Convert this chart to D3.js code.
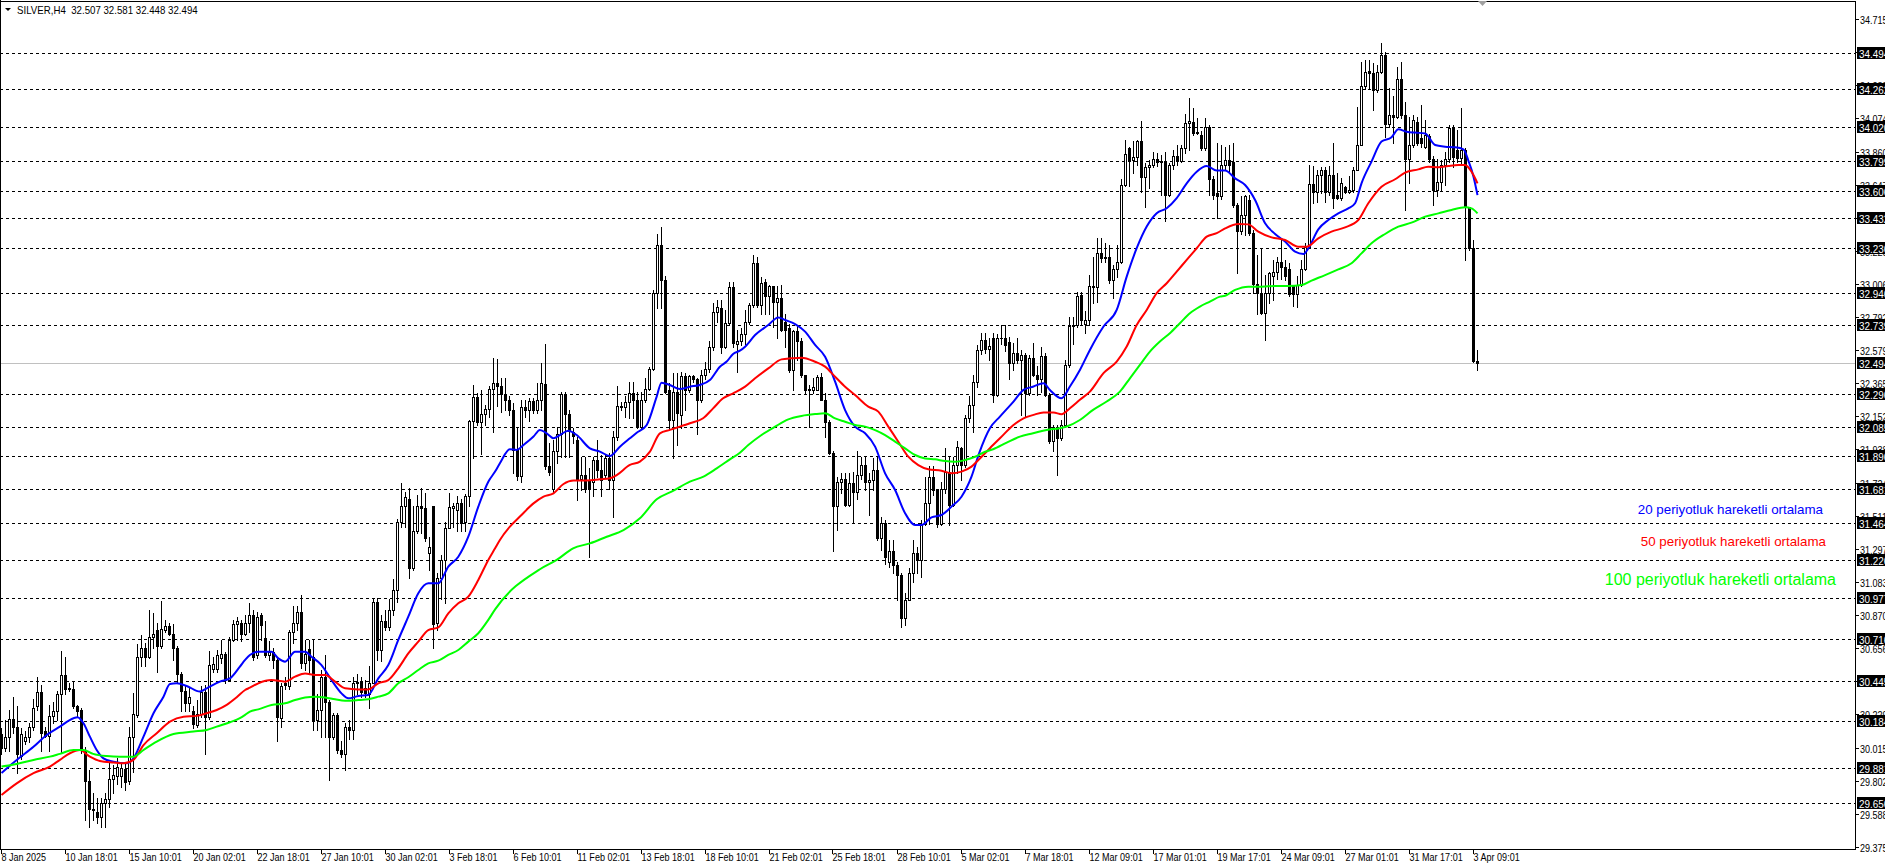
<!DOCTYPE html>
<html><head><meta charset="utf-8">
<script src="https://cdn.jsdelivr.net/npm/d3@7"></script>
<style>
body{margin:0;background:#fff;overflow:hidden}
svg{display:block}
.ax{font-family:'Liberation Sans',Arial,sans-serif;font-size:11px}
</style>
</head><body>
<svg id="c" width="1885" height="868"></svg>
<script>
const symbolTitle = "SILVER,H4  32.507 32.581 32.448 32.494";
const opens = [30.10,30.01,30.08,30.20,30.15,29.96,30.06,30.08,30.15,30.28,
30.37,30.12,30.09,30.22,30.25,30.36,30.48,30.39,30.39,30.285,
30.26,30.00,29.80,29.62,29.60,29.565,29.66,29.68,29.81,29.83,
29.83,29.875,29.80,30.08,30.225,30.60,30.66,30.60,30.73,30.77,
30.67,30.77,30.80,30.75,30.66,30.49,30.38,30.30,30.25,30.16,
30.23,30.37,30.21,30.52,30.52,30.59,30.62,30.45,30.71,30.81,
30.82,30.75,30.82,30.87,30.61,30.87,30.72,30.61,30.63,30.58,
30.205,30.43,30.41,30.76,30.82,30.89,30.56,30.65,30.60,30.19,
30.26,30.47,30.31,30.085,30.225,30.00,29.97,30.15,30.13,30.43,
30.44,30.40,30.36,30.43,30.955,30.645,30.83,30.795,30.905,31.03,
31.47,31.57,31.62,31.17,31.41,31.575,31.56,31.27,31.57,30.82,
31.11,31.225,31.43,31.56,31.55,31.59,31.47,31.64,32.12,32.275,
32.115,32.165,32.20,32.325,32.365,32.35,32.295,32.26,32.19,31.935,
31.765,32.21,32.19,32.25,32.195,32.255,32.36,31.83,31.68,31.925,
32.04,32.29,32.165,32.05,32.00,31.75,31.775,31.74,31.73,31.87,
31.805,31.77,31.88,31.74,32.02,32.22,32.21,32.245,32.305,32.255,
32.085,32.255,32.325,32.455,32.945,33.255,33.03,32.32,32.13,32.31,
32.16,32.41,32.32,32.41,32.39,32.255,32.42,32.46,32.60,32.825,
32.85,32.60,32.755,32.985,32.62,32.635,32.685,32.76,32.87,33.14,
32.87,33.02,32.925,32.99,32.89,32.915,32.76,32.72,32.45,32.70,
32.635,32.42,32.32,32.32,32.32,32.405,32.26,32.115,31.915,31.57,
31.73,31.75,31.58,31.72,31.665,31.775,31.835,31.73,31.74,31.805,
31.365,31.465,31.21,31.28,31.19,31.13,30.85,30.965,31.14,31.27,
31.225,31.46,31.595,31.76,31.675,31.46,31.685,31.795,31.58,31.835,
31.945,31.835,32.14,32.225,32.37,32.58,32.645,32.585,32.655,32.29,
32.66,32.655,32.63,32.495,32.56,32.515,32.55,32.30,32.525,32.42,
32.39,32.54,32.29,31.99,32.085,32.01,32.095,32.485,32.735,32.74,
32.935,32.75,32.775,32.995,32.985,33.205,33.17,33.18,33.03,33.10,
33.145,33.645,33.88,33.805,33.825,33.925,33.695,33.76,33.775,33.815,
33.80,33.79,33.58,33.775,33.83,33.80,33.88,34.045,34.05,33.985,
33.965,33.88,34.02,33.68,33.59,33.57,33.775,33.805,33.79,33.515,
33.345,33.45,33.545,33.335,33.005,32.945,32.82,32.945,33.06,33.08,
33.15,33.115,33.10,32.99,32.94,33.00,33.105,33.245,33.65,33.60,
33.71,33.74,33.60,33.71,33.58,33.56,33.63,33.60,33.61,33.74,
33.90,34.28,34.38,34.365,34.255,34.375,34.485,34.04,34.095,34.08,
34.33,34.095,33.815,33.90,34.05,33.95,33.89,33.96,33.815,33.61,
33.665,33.775,33.815,34.01,33.87,33.82,33.87,33.50,33.235,32.507];
const highs = [30.14,30.19,30.26,30.34,30.28,30.14,30.12,30.17,30.33,30.47,
30.42,30.15,30.29,30.31,30.38,30.64,30.60,30.43,30.44,30.29,
30.27,30.02,29.87,29.72,29.69,29.69,29.72,29.92,29.90,29.945,
29.92,29.91,30.15,30.365,30.68,30.74,30.69,30.90,30.88,30.82,
30.96,30.84,30.82,30.81,30.67,30.50,30.41,30.40,30.28,30.32,
30.41,30.42,30.64,30.60,30.645,30.71,30.63,30.73,30.835,30.86,
30.84,30.87,30.945,30.90,30.89,30.88,30.83,30.70,30.655,30.60,
30.43,30.47,30.77,30.93,30.93,31.00,30.71,30.71,30.71,30.36,
30.515,30.61,30.32,30.24,30.24,30.06,30.17,30.19,30.47,30.49,
30.47,30.45,30.54,30.98,30.98,30.87,30.90,30.97,31.10,31.49,
31.72,31.665,31.69,31.57,31.645,31.69,31.66,31.375,31.575,31.14,
31.26,31.47,31.655,31.59,31.635,31.62,31.65,32.13,32.355,32.30,
32.32,32.225,32.345,32.525,32.52,32.40,32.40,32.28,32.235,32.085,
32.255,32.255,32.27,32.27,32.365,32.495,32.62,31.98,32.00,32.085,
32.31,32.31,32.195,32.075,32.02,31.89,31.89,31.82,31.89,32.00,
31.90,31.90,31.915,32.055,32.345,32.245,32.28,32.375,32.375,32.31,
32.31,32.40,32.47,32.965,33.33,33.375,33.055,32.365,32.43,32.43,
32.44,32.43,32.42,32.42,32.40,32.45,32.505,32.635,32.88,32.90,
32.90,32.84,33.02,33.02,32.71,32.72,32.84,32.88,33.19,33.18,
33.05,33.04,33.00,32.995,32.99,33.00,32.815,32.75,32.71,32.74,
32.655,32.42,32.355,32.40,32.42,32.43,32.30,32.13,31.925,31.76,
31.785,31.785,31.785,31.795,31.925,31.89,31.89,31.785,31.88,31.89,
31.505,31.485,31.355,31.355,31.215,31.14,31.01,31.17,31.355,31.31,
31.485,31.76,31.83,31.83,31.68,31.73,31.945,31.89,31.89,31.99,
31.955,32.16,32.28,32.42,32.61,32.69,32.69,32.655,32.69,32.68,
32.74,32.74,32.665,32.625,32.655,32.58,32.56,32.55,32.625,32.475,
32.60,32.56,32.30,32.095,32.095,32.13,32.515,32.79,32.795,32.955,
32.955,32.83,33.065,33.18,33.30,33.30,33.27,33.26,33.13,33.26,
33.68,33.935,33.89,33.925,33.935,34.055,33.785,33.805,33.86,33.85,
33.84,33.86,33.785,33.87,33.90,33.905,34.105,34.205,34.14,34.075,
33.99,34.075,34.03,33.70,33.915,33.905,33.89,33.90,33.915,33.525,
33.57,33.58,33.58,33.355,33.19,33.235,33.065,33.085,33.16,33.18,
33.29,33.16,33.14,33.00,33.055,33.16,33.27,33.775,33.765,33.74,
33.76,33.76,33.765,33.915,33.72,33.69,33.635,33.70,33.76,34.15,
34.44,34.45,34.45,34.43,34.42,34.56,34.505,34.27,34.215,34.405,
34.44,34.18,34.085,34.095,34.085,34.16,34.065,33.97,33.83,33.815,
33.805,33.86,34.03,34.03,34.00,34.14,33.88,33.505,33.29,32.581];
const lows = [29.97,29.99,29.99,30.11,29.85,29.94,30.04,30.05,30.13,30.26,
29.99,30.08,29.99,30.17,30.19,29.98,30.36,30.38,30.27,30.22,
29.98,29.55,29.50,29.55,29.53,29.50,29.50,29.63,29.72,29.78,
29.76,29.74,29.78,29.86,30.21,30.54,30.54,30.59,30.655,30.505,
30.655,30.76,30.74,30.58,30.44,30.25,30.25,30.25,30.14,30.15,
30.21,29.97,30.20,30.505,30.505,30.56,30.43,30.445,30.70,30.71,
30.70,30.74,30.76,30.58,30.59,30.71,30.60,30.58,30.525,30.06,
30.15,30.39,30.39,30.69,30.77,30.53,30.515,30.49,30.13,30.13,
30.085,30.085,29.805,30.07,29.98,29.955,29.87,30.07,30.07,30.36,
30.34,30.34,30.27,30.43,30.58,30.57,30.77,30.77,30.87,30.955,
31.44,31.44,31.11,31.16,31.40,31.40,31.35,31.16,30.655,30.77,
30.97,30.945,31.43,31.44,31.41,31.41,31.41,31.57,31.88,32.095,
31.91,32.095,32.15,32.05,32.215,32.18,32.19,32.16,31.785,31.74,
31.73,32.15,32.12,32.17,32.17,32.19,31.815,31.77,31.655,31.85,
31.89,31.89,31.89,31.98,31.61,31.675,31.665,31.245,31.635,31.76,
31.635,31.76,31.685,31.505,32.00,32.19,32.15,32.14,32.14,32.075,
32.075,32.245,32.32,32.45,32.85,32.85,32.30,32.065,31.88,31.965,
32.075,32.19,32.31,32.375,32.04,32.245,32.395,32.44,32.58,32.76,
32.56,32.59,32.74,32.60,32.44,32.61,32.62,32.75,32.86,32.86,
32.815,32.815,32.815,32.73,32.655,32.70,32.60,32.44,32.32,32.515,
32.405,32.30,32.085,32.30,32.32,32.255,32.02,31.91,31.28,31.42,
31.655,31.57,31.57,31.47,31.62,31.75,31.675,31.515,31.675,31.355,
31.29,31.20,31.18,31.14,30.965,30.795,30.805,30.965,31.085,31.14,
31.115,31.45,31.46,31.645,31.44,31.45,31.655,31.45,31.57,31.785,
31.74,31.825,32.115,32.05,32.34,32.555,32.56,32.515,32.245,32.28,
32.62,32.57,32.395,32.45,32.495,32.16,32.15,32.29,32.41,32.29,
32.31,32.28,31.98,31.925,31.775,32.00,32.085,32.47,32.62,32.73,
32.75,32.69,32.74,32.88,32.89,33.15,33.15,33.01,32.915,33.05,
33.14,33.635,33.635,33.72,33.775,33.60,33.505,33.625,33.76,33.765,
33.58,33.41,33.57,33.75,33.775,33.795,33.85,33.87,33.965,33.975,
33.87,33.87,33.58,33.555,33.43,33.555,33.74,33.73,33.505,33.075,
33.33,33.32,33.32,32.945,32.815,32.815,32.645,32.88,32.90,33.04,
33.04,33.03,32.925,32.865,32.86,32.99,33.095,33.235,33.525,33.535,
33.59,33.535,33.58,33.495,33.555,33.545,33.59,33.59,33.60,33.74,
33.90,34.265,34.265,34.13,34.245,34.365,33.955,34.02,33.915,34.075,
34.075,33.485,33.655,33.89,33.90,33.89,33.88,33.795,33.515,33.57,
33.61,33.645,33.795,33.76,33.795,33.785,33.16,33.225,32.505,32.448];
const closes = [30.01,30.08,30.20,30.15,29.97,30.10,30.08,30.15,30.27,30.37,
30.11,30.09,30.22,30.25,30.36,30.48,30.39,30.40,30.28,30.25,
30.00,29.80,29.62,29.61,29.565,29.66,29.68,29.81,29.84,29.89,
29.88,29.795,30.08,30.23,30.60,30.66,30.60,30.73,30.75,30.67,
30.78,30.80,30.75,30.655,30.49,30.38,30.30,30.34,30.165,30.23,
30.37,30.21,30.55,30.555,30.61,30.62,30.45,30.71,30.815,30.83,
30.75,30.82,30.87,30.60,30.86,30.805,30.61,30.63,30.58,30.21,
30.41,30.42,30.76,30.82,30.89,30.56,30.62,30.58,30.19,30.26,
30.47,30.31,30.085,30.225,30.00,29.97,30.15,30.13,30.43,30.44,
30.375,30.365,30.43,30.955,30.645,30.83,30.795,30.905,31.03,31.47,
31.57,31.63,31.17,31.41,31.57,31.56,31.365,31.31,30.815,31.11,
31.225,31.43,31.565,31.575,31.59,31.465,31.64,32.12,32.275,32.115,
32.165,32.20,32.325,32.365,32.35,32.295,32.26,32.19,31.935,31.765,
32.21,32.195,32.25,32.195,32.255,32.365,31.83,31.795,31.925,32.04,
32.295,32.165,32.055,32.025,31.75,31.775,31.68,31.68,31.87,31.805,
31.74,31.88,31.74,32.02,32.22,32.21,32.245,32.305,32.255,32.085,
32.255,32.325,32.455,32.945,33.255,33.03,32.31,32.13,32.31,32.17,
32.41,32.32,32.41,32.39,32.255,32.42,32.46,32.60,32.825,32.86,
32.60,32.755,32.985,32.625,32.635,32.685,32.76,32.87,33.14,32.87,
33.015,32.925,32.99,32.89,32.915,32.71,32.71,32.45,32.70,32.635,
32.42,32.32,32.33,32.34,32.405,32.26,32.115,31.915,31.57,31.73,
31.75,31.58,31.72,31.665,31.775,31.835,31.73,31.74,31.805,31.365,
31.465,31.245,31.28,31.19,31.13,30.85,30.965,31.14,31.27,31.225,
31.46,31.595,31.76,31.675,31.46,31.685,31.795,31.58,31.835,31.955,
31.835,32.14,32.225,32.37,32.58,32.645,32.585,32.605,32.29,32.66,
32.655,32.61,32.495,32.56,32.515,32.55,32.30,32.525,32.42,32.39,
32.54,32.29,31.99,32.085,32.01,32.095,32.485,32.735,32.74,32.925,
32.775,32.775,32.995,32.985,33.205,33.17,33.18,33.03,33.10,33.145,
33.645,33.845,33.805,33.825,33.925,33.695,33.76,33.775,33.815,33.79,
33.79,33.58,33.775,33.83,33.80,33.88,34.045,34.055,33.98,33.978,
33.88,34.02,33.68,33.58,33.57,33.775,33.805,33.775,33.515,33.345,
33.45,33.57,33.335,33.005,32.945,32.82,32.945,33.075,33.08,33.15,
33.115,33.06,32.94,32.94,33.00,33.105,33.245,33.65,33.60,33.71,
33.74,33.60,33.71,33.56,33.56,33.655,33.60,33.61,33.74,33.90,
34.28,34.375,34.365,34.255,34.375,34.485,34.04,34.095,34.08,34.325,
34.095,33.815,33.90,34.065,33.915,33.915,33.965,33.815,33.61,33.665,
33.775,33.815,34.01,33.825,33.82,33.87,33.50,33.235,32.51,32.494];

const ma20 = [[0,29.85],[3.8,29.935],[8,30.02],[11.3,30.096],[14.6,30.15],[18,30.204],[19,30.21],[20.5,30.171],[22.1,30.085],[23.8,29.999],[25.5,29.945],[28,29.924],[31.3,29.913],[33,29.945],[35.5,30.085],[38,30.236],[40.5,30.343],[42.1,30.425],[43.8,30.429],[46.3,30.412],[49.6,30.376],[51.3,30.397],[54.6,30.44],[57.1,30.461],[59.6,30.537],[60.9,30.58],[62.1,30.612],[64.2,30.633],[67.5,30.633],[69.2,30.59],[70.9,30.569],[73.4,30.633],[75.9,30.633],[77.5,30.601],[80,30.547],[82.5,30.45],[85,30.364],[86.7,30.332],[89.2,30.347],[91.7,30.354],[94.2,30.461],[96.7,30.547],[99.2,30.709],[101.7,30.859],[104.2,31.01],[106.7,31.074],[109.2,31.074],[111.7,31.182],[114.2,31.246],[116.7,31.375],[119.2,31.569],[121.7,31.73],[123.4,31.795],[124.6,31.849],[127.1,31.939],[128.8,31.935],[130.5,31.967],[133,32.021],[134.6,32.064],[136.3,32.042],[138,32.01],[139.6,32.031],[141.7,32.059],[143.8,32.031],[147.1,31.945],[149.6,31.924],[152.1,31.896],[154.6,31.956],[157.1,32.01],[158.8,32.046],[161.3,32.096],[163.8,32.279],[165,32.369],[167.1,32.354],[169.6,32.328],[172.1,32.343],[174.6,32.354],[177.1,32.386],[179.6,32.472],[181.3,32.505],[182.9,32.554],[184.6,32.575],[185.9,32.601],[188.4,32.676],[191.7,32.741],[194.2,32.79],[195.9,32.773],[198.4,32.747],[200.9,32.698],[203.4,32.612],[205.9,32.536],[208.4,32.375],[210.9,32.192],[213.4,32.085],[215.9,32.042],[218.4,31.956],[220.9,31.784],[223.4,31.676],[225.9,31.526],[228.4,31.45],[230,31.45],[232.5,31.5],[235,31.515],[237.5,31.569],[240,31.633],[242.5,31.762],[244.4,31.913],[247.1,32.075],[249.6,32.15],[253,32.247],[255.5,32.322],[258,32.344],[260.5,32.365],[262.1,32.322],[265,32.268],[267.1,32.344],[269.6,32.451],[272.1,32.58],[275.5,32.731],[278.8,32.838],[281.3,33.053],[283.8,33.236],[286.3,33.376],[288.8,33.462],[291.3,33.494],[293.8,33.559],[296.3,33.655],[298.8,33.73],[301.3,33.767],[303.8,33.737],[305.9,33.737],[308.4,33.687],[310.9,33.644],[313.4,33.547],[315.9,33.397],[318.4,33.328],[320.9,33.279],[323.4,33.214],[325.5,33.199],[326.7,33.235],[329.2,33.358],[331.7,33.418],[334.2,33.461],[336.7,33.493],[338.4,33.526],[340,33.655],[342.5,33.795],[345,33.924],[347.5,33.952],[349.2,34.003],[351.3,33.988],[353.4,33.982],[355.9,33.977],[358.4,33.902],[360.9,33.891],[363.4,33.887],[365.5,33.874],[366.8,33.795],[368,33.698],[369,33.579]];
const ma50 = [[0,29.709],[3.8,29.784],[8,29.849],[12.1,29.892],[14.6,29.935],[17.1,29.978],[19.6,29.999],[22.1,29.956],[24.6,29.928],[28,29.918],[30.5,29.913],[33,29.935],[35.5,30.031],[38.8,30.107],[42.1,30.182],[45.5,30.214],[48.8,30.219],[51.3,30.236],[53.8,30.257],[56.3,30.29],[58.8,30.339],[60.9,30.386],[62.1,30.401],[64.2,30.429],[67.5,30.45],[70.9,30.44],[73.4,30.472],[75.9,30.493],[78.4,30.483],[80.9,30.483],[83.4,30.44],[85.9,30.397],[89.2,30.39],[91.7,30.39],[94.2,30.429],[96.7,30.45],[99.2,30.526],[101.7,30.622],[104.2,30.698],[106.7,30.773],[109.2,30.79],[111.7,30.88],[114.2,30.945],[116.7,30.988],[119.2,31.096],[121.7,31.225],[123.4,31.3],[124.6,31.354],[127.1,31.44],[129.6,31.505],[133,31.59],[135.5,31.634],[138,31.655],[140.5,31.715],[143,31.737],[146.3,31.737],[149.6,31.745],[152.1,31.752],[153.8,31.773],[157.1,31.838],[159.6,31.859],[162.1,31.924],[164.6,32.042],[167.1,32.064],[169.6,32.085],[172.1,32.107],[175.4,32.139],[177.9,32.203],[180.4,32.268],[182.9,32.30],[185.9,32.343],[188.4,32.397],[191.7,32.461],[195,32.519],[197.5,32.526],[200,32.53],[203.4,32.504],[205.9,32.472],[208.4,32.407],[210.9,32.343],[213.4,32.289],[216.7,32.214],[219.2,32.182],[221.7,32.085],[224.2,31.988],[226.7,31.891],[229.2,31.837],[231.7,31.81],[235,31.801],[237.5,31.784],[240,31.795],[242.5,31.827],[244.6,31.88],[247.1,31.946],[249.6,32.01],[253,32.096],[255.5,32.139],[258,32.161],[260.5,32.176],[263,32.176],[265,32.165],[267.1,32.204],[269.6,32.258],[272.1,32.311],[275.5,32.43],[278.8,32.505],[281.3,32.602],[283.8,32.741],[286.3,32.838],[288.8,32.946],[291.3,33.01],[293.8,33.085],[296.3,33.161],[298.8,33.236],[301.3,33.311],[303.8,33.333],[305.9,33.364],[309.2,33.392],[311.7,33.39],[314.2,33.343],[317.5,33.306],[320.9,33.289],[324.2,33.246],[326.3,33.246],[329.2,33.3],[332.5,33.343],[335.9,33.371],[339.2,33.418],[341.7,33.526],[345,33.633],[348.4,33.681],[350.9,33.724],[354.2,33.745],[356.7,33.762],[359.2,33.758],[361.7,33.767],[364.2,33.773],[365.9,33.773],[367.5,33.73],[369,33.655]];
const ma100 = [[0,29.892],[3.8,29.909],[8,29.935],[12.1,29.956],[14.6,29.974],[18,29.999],[20.5,29.999],[22.9,29.974],[26.3,29.96],[29.6,29.956],[33,29.956],[35.5,29.999],[38.8,30.053],[43,30.102],[48,30.118],[51.3,30.128],[53.8,30.15],[57.1,30.178],[59.6,30.204],[60.9,30.225],[62.1,30.247],[64.2,30.261],[67.5,30.289],[70.9,30.3],[73.4,30.321],[75.9,30.338],[78.4,30.343],[80.9,30.338],[83.4,30.326],[85.9,30.317],[89.2,30.321],[91.7,30.326],[94.2,30.343],[96.7,30.364],[99.2,30.429],[101.7,30.468],[104.2,30.515],[106.7,30.558],[109.2,30.575],[111.7,30.612],[114.2,30.644],[116.7,30.698],[119.2,30.752],[121.7,30.838],[123.4,30.906],[134.6,31.165],[138.8,31.225],[142.9,31.3],[147.1,31.332],[151.3,31.375],[155.5,31.418],[159.6,31.494],[163.8,31.616],[168,31.672],[172.1,31.73],[175.5,31.763],[178.8,31.816],[182.1,31.874],[184.6,31.917],[186.7,31.966],[190,32.031],[193.4,32.085],[196.7,32.132],[200,32.154],[203.4,32.166],[205.9,32.171],[208.4,32.138],[210.9,32.117],[213.4,32.096],[215.9,32.085],[218.4,32.063],[220.9,32.031],[223.4,31.988],[225.9,31.945],[228.4,31.902],[230.9,31.88],[233.4,31.874],[235.9,31.863],[238.4,31.859],[240.9,31.87],[243.4,31.891],[245.9,31.923],[247.9,31.939],[251.3,31.982],[254.6,32.021],[257.9,32.042],[261.3,32.064],[264.6,32.075],[266.3,32.086],[269.6,32.128],[272.9,32.193],[276.3,32.247],[279.6,32.311],[282.1,32.397],[284.6,32.483],[287.1,32.569],[289.6,32.634],[292.1,32.688],[294.6,32.752],[297.1,32.817],[299.6,32.86],[302.1,32.892],[304.6,32.924],[305.9,32.93],[308.4,32.967],[311.7,32.988],[315,32.988],[318.4,32.993],[321.7,32.993],[325,32.999],[327.5,33.027],[330.9,33.063],[334.2,33.1],[337.5,33.139],[340,33.203],[342.5,33.268],[345.9,33.328],[349.2,33.375],[352.5,33.401],[355.9,33.44],[359.2,33.461],[362.5,33.483],[365.9,33.5],[367.5,33.493],[369,33.461]];

const levels = [34.494,34.262,34.020,33.799,33.606,33.432,33.236,32.946,32.739,32.296,32.085,31.896,31.681,31.464,31.226,30.977,30.716,30.445,30.184,29.881,29.656];
const bidPrice = 32.494;
const yTickLabels = ["34.715","34.501","34.288","34.074","33.860","33.647","33.433","33.220","33.006","32.792","32.579","32.365","32.152","31.938","31.724","31.511","31.297","31.083","30.870","30.656","30.442","30.229","30.015","29.802","29.588","29.375"];
const xTickLabels = ["8 Jan 2025","10 Jan 18:01","15 Jan 10:01","20 Jan 02:01","22 Jan 18:01","27 Jan 10:01","30 Jan 02:01","3 Feb 18:01","6 Feb 10:01","11 Feb 02:01","13 Feb 18:01","18 Feb 10:01","21 Feb 02:01","25 Feb 18:01","28 Feb 10:01","5 Mar 02:01","7 Mar 18:01","12 Mar 09:01","17 Mar 01:01","19 Mar 17:01","24 Mar 09:01","27 Mar 01:01","31 Mar 17:01","3 Apr 09:01"];
const barsPerLabel = 16;
const legendTexts = ["20 periyotluk hareketli ortalama","50 periyotluk hareketli ortalama","100 periyotluk hareketli ortalama"];
const maColors = ["#0000FF","#FF0000","#00FF00"];

// ---------- drawing ----------
const svg = d3.select("#c");
const plotRight = 1855, plotBottom = 849;
const x = d3.scaleLinear().domain([0, 369]).range([1.5, 1477.5]);
const y = d3.scaleLinear().domain([29.375, 34.715]).range([846.7, 19.0]);
const py = v => Math.round(y(v)) + 0.5;

const g = svg.append("g").attr("shape-rendering","crispEdges");

g.selectAll("line.lv").data(levels).join("line")
  .attr("x1",0).attr("x2",plotRight).attr("y1",d=>py(d)).attr("y2",d=>py(d))
  .attr("stroke","#000").attr("stroke-width",1).attr("stroke-dasharray","3,3");
g.append("line").attr("x1",0).attr("x2",plotRight).attr("y1",py(bidPrice)).attr("y2",py(bidPrice))
  .attr("stroke","#C0C0C0").attr("stroke-width",1);

const bars = d3.range(opens.length).map(i => {
  const o=opens[i], c=closes[i];
  return {i, o, c, h:Math.max(highs[i],o,c), l:Math.min(lows[i],o,c)};
});
const cg = g.append("g");
bars.forEach(b => {
  const cx = x(b.i);
  cg.append("line").attr("x1",cx).attr("x2",cx).attr("y1",py(b.h)-0.5).attr("y2",py(b.l)+0.5)
    .attr("stroke","#000").attr("stroke-width",1);
  const yt = py(Math.max(b.o,b.c)), yb = py(Math.min(b.o,b.c));
  if (yb - yt < 1) {
    cg.append("line").attr("x1",cx-1.5).attr("x2",cx+1.5).attr("y1",yt).attr("y2",yt)
      .attr("stroke","#000").attr("stroke-width",1);
  } else {
    cg.append("rect").attr("x",cx-1).attr("y",yt).attr("width",2).attr("height",yb-yt)
      .attr("fill", b.c>b.o ? "#fff" : "#000").attr("stroke","#000").attr("stroke-width",1);
  }
});

const line = d3.line().x(d=>x(d[0])).y(d=>y(d[1])).curve(d3.curveMonotoneX);
[ma20, ma50, ma100].forEach((arr,k) => {
  svg.append("path").attr("d", line(arr)).attr("fill","none")
    .attr("stroke", maColors[k]).attr("stroke-width",2).attr("stroke-linejoin","round");
});

const legendPos = [[1823,514,13.33],[1826,546,13.33],[1836,585,16]];
legendTexts.forEach((t,k) => {
  svg.append("text").attr("x",legendPos[k][0]).attr("y",legendPos[k][1])
    .attr("text-anchor","end").attr("fill",maColors[k])
    .attr("font-family","'Liberation Sans',Arial,sans-serif").attr("font-size",legendPos[k][2])
    .text(t);
});

// frame
g.append("line").attr("x1",0.5).attr("x2",0.5).attr("y1",0).attr("y2",plotBottom).attr("stroke","#000");
g.append("line").attr("x1",0).attr("x2",plotRight).attr("y1",1.5).attr("y2",1.5).attr("stroke","#000");
g.append("line").attr("x1",plotRight+0.5).attr("x2",plotRight+0.5).attr("y1",1).attr("y2",plotBottom+1).attr("stroke","#000");
g.append("line").attr("x1",0).attr("x2",plotRight+1).attr("y1",plotBottom+0.5).attr("y2",plotBottom+0.5).attr("stroke","#000");

const ax = svg.append("g").attr("class","ax");
const narrow = f => sel => sel.each(function(){
  const L = this.getComputedTextLength();
  this.setAttribute("textLength", (L*f).toFixed(1));
  this.setAttribute("lengthAdjust","spacingAndGlyphs");
});

yTickLabels.forEach(s => {
  const yy = py(+s);
  ax.append("line").attr("x1",plotRight+1).attr("x2",plotRight+4).attr("y1",yy).attr("y2",yy)
    .attr("stroke","#000").attr("shape-rendering","crispEdges");
  ax.append("text").attr("x",1860).attr("y",yy+4).attr("fill","#000").text(s).call(narrow(0.82));
});
levels.concat([bidPrice]).forEach(v => {
  const yy = py(v);
  ax.append("rect").attr("x",1857).attr("y",yy-6.5).attr("width",40).attr("height",12)
    .attr("fill","#000").attr("shape-rendering","crispEdges");
  ax.append("text").attr("x",1859).attr("y",yy+4).attr("fill","#fff").text(v.toFixed(3)).call(narrow(0.9));
});

xTickLabels.forEach((s,k) => {
  const xx = Math.round(x(k*barsPerLabel)) - 0.5;
  ax.append("line").attr("x1",xx).attr("x2",xx).attr("y1",plotBottom+1).attr("y2",plotBottom+5)
    .attr("stroke","#000").attr("shape-rendering","crispEdges");
  ax.append("text").attr("x",xx).attr("y",861).attr("fill","#000").text(s).call(narrow(0.82));
});

svg.append("path").attr("d","M5,8 L11,8 L8,11 Z").attr("fill","#000");
ax.append("text").attr("x",17).attr("y",13.5).attr("fill","#000").attr("xml:space","preserve")
  .style("white-space","pre").text(symbolTitle).call(narrow(0.88));
svg.append("path").attr("d","M1478,1 L1487,1 L1482.5,6 Z").attr("fill","#A0A0A0");
</script>
</body></html>
